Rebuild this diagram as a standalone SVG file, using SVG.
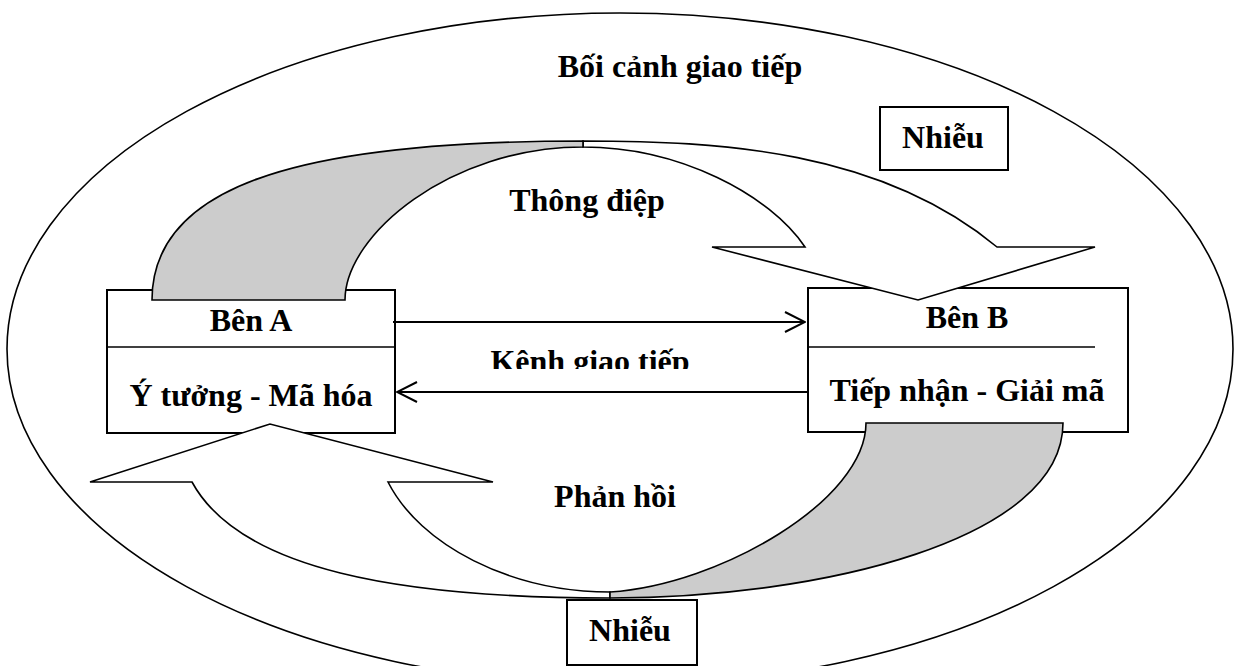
<svg xmlns="http://www.w3.org/2000/svg" width="1235" height="666" viewBox="0 0 1235 666">
<style>
.ln{fill:none;stroke:#000;stroke-width:1.6}
.box{fill:#fff;stroke:#000;stroke-width:2}
.band{fill:#fff;stroke:#000;stroke-width:1.6;stroke-linejoin:miter}
.shade{fill:#cccccc;stroke:#000;stroke-width:1.6}
.t{font-family:"Liberation Serif","Times New Roman",serif;font-weight:bold;font-size:32px;fill:#000;text-anchor:middle}
.conn{fill:none;stroke:#000;stroke-width:2}
</style>
<defs>
<marker id="open" markerUnits="userSpaceOnUse" viewBox="0 0 22 22" refX="21" refY="11" markerWidth="22" markerHeight="22" orient="auto">
<path d="M1,1 L21,11 L1,21" fill="none" stroke="#000" stroke-width="2"/>
</marker>
<clipPath id="kclip"><rect x="400" y="320" width="400" height="49"/></clipPath>
</defs>
<rect width="1235" height="666" fill="#fff"/>
<g id="context">
<ellipse class="ln" cx="620" cy="349" rx="613" ry="336"/>
<text class="t" x="680" y="77">Bối cảnh giao tiếp</text>
</g>
<g id="benA">
<rect class="box" x="107" y="290" width="288" height="143"/>
<line class="ln" x1="107" y1="347" x2="395" y2="347" stroke-width="2"/>
</g>
<g id="benB">
<rect class="box" x="808" y="288" width="320" height="144"/>
<line class="ln" x1="808" y1="347" x2="1095" y2="347" stroke-width="2"/>
</g>
<g id="message">
<path class="band" d="M583,141 C720,141 880,150 997,247 L1095,247 L918,300 L712,247 L805,247 C770,195 680,147 583,147 Z"/>
<path class="shade" d="M152,300 C152,189 290,141 583,141 L583,147 C450,147 345,235 345,300 Z"/>
<text class="t" x="587" y="211">Thông điệp</text>
</g>
<g id="feedback">
<path class="band" d="M610,598 C400,598 240,570 192,482 L90,482 L270,424 L493,482 L388,482 C420,545 510,592 610,592 Z"/>
<path class="shade" d="M610,598 C820,598 1063,540 1063,423 L866,423 C866,500 720,585 610,592 Z"/>
<text class="t" x="615" y="507">Phản hồi</text>
</g>
<g id="noise-top">
<rect class="box" x="880" y="107" width="128" height="63"/>
<text class="t" x="943" y="148">Nhiễu</text>
</g>
<g id="noise-bottom">
<rect class="box" x="567" y="600" width="130" height="65"/>
<text class="t" x="630" y="641">Nhiễu</text>
</g>
<g id="connectors">
<line class="conn" x1="393" y1="322" x2="805" y2="322" marker-end="url(#open)"/>
<line class="conn" x1="807" y1="392" x2="397" y2="392" marker-end="url(#open)"/>
</g>
<g id="channel">
<text class="t" x="590" y="372" clip-path="url(#kclip)">Kênh giao tiếp</text>
</g>
<g id="labels">
<text class="t" x="251" y="331">Bên A</text>
<text class="t" x="251" y="406">Ý tưởng - Mã hóa</text>
<text class="t" x="967" y="328">Bên B</text>
<text class="t" x="967" y="401">Tiếp nhận - Giải mã</text>
</g>
</svg>
